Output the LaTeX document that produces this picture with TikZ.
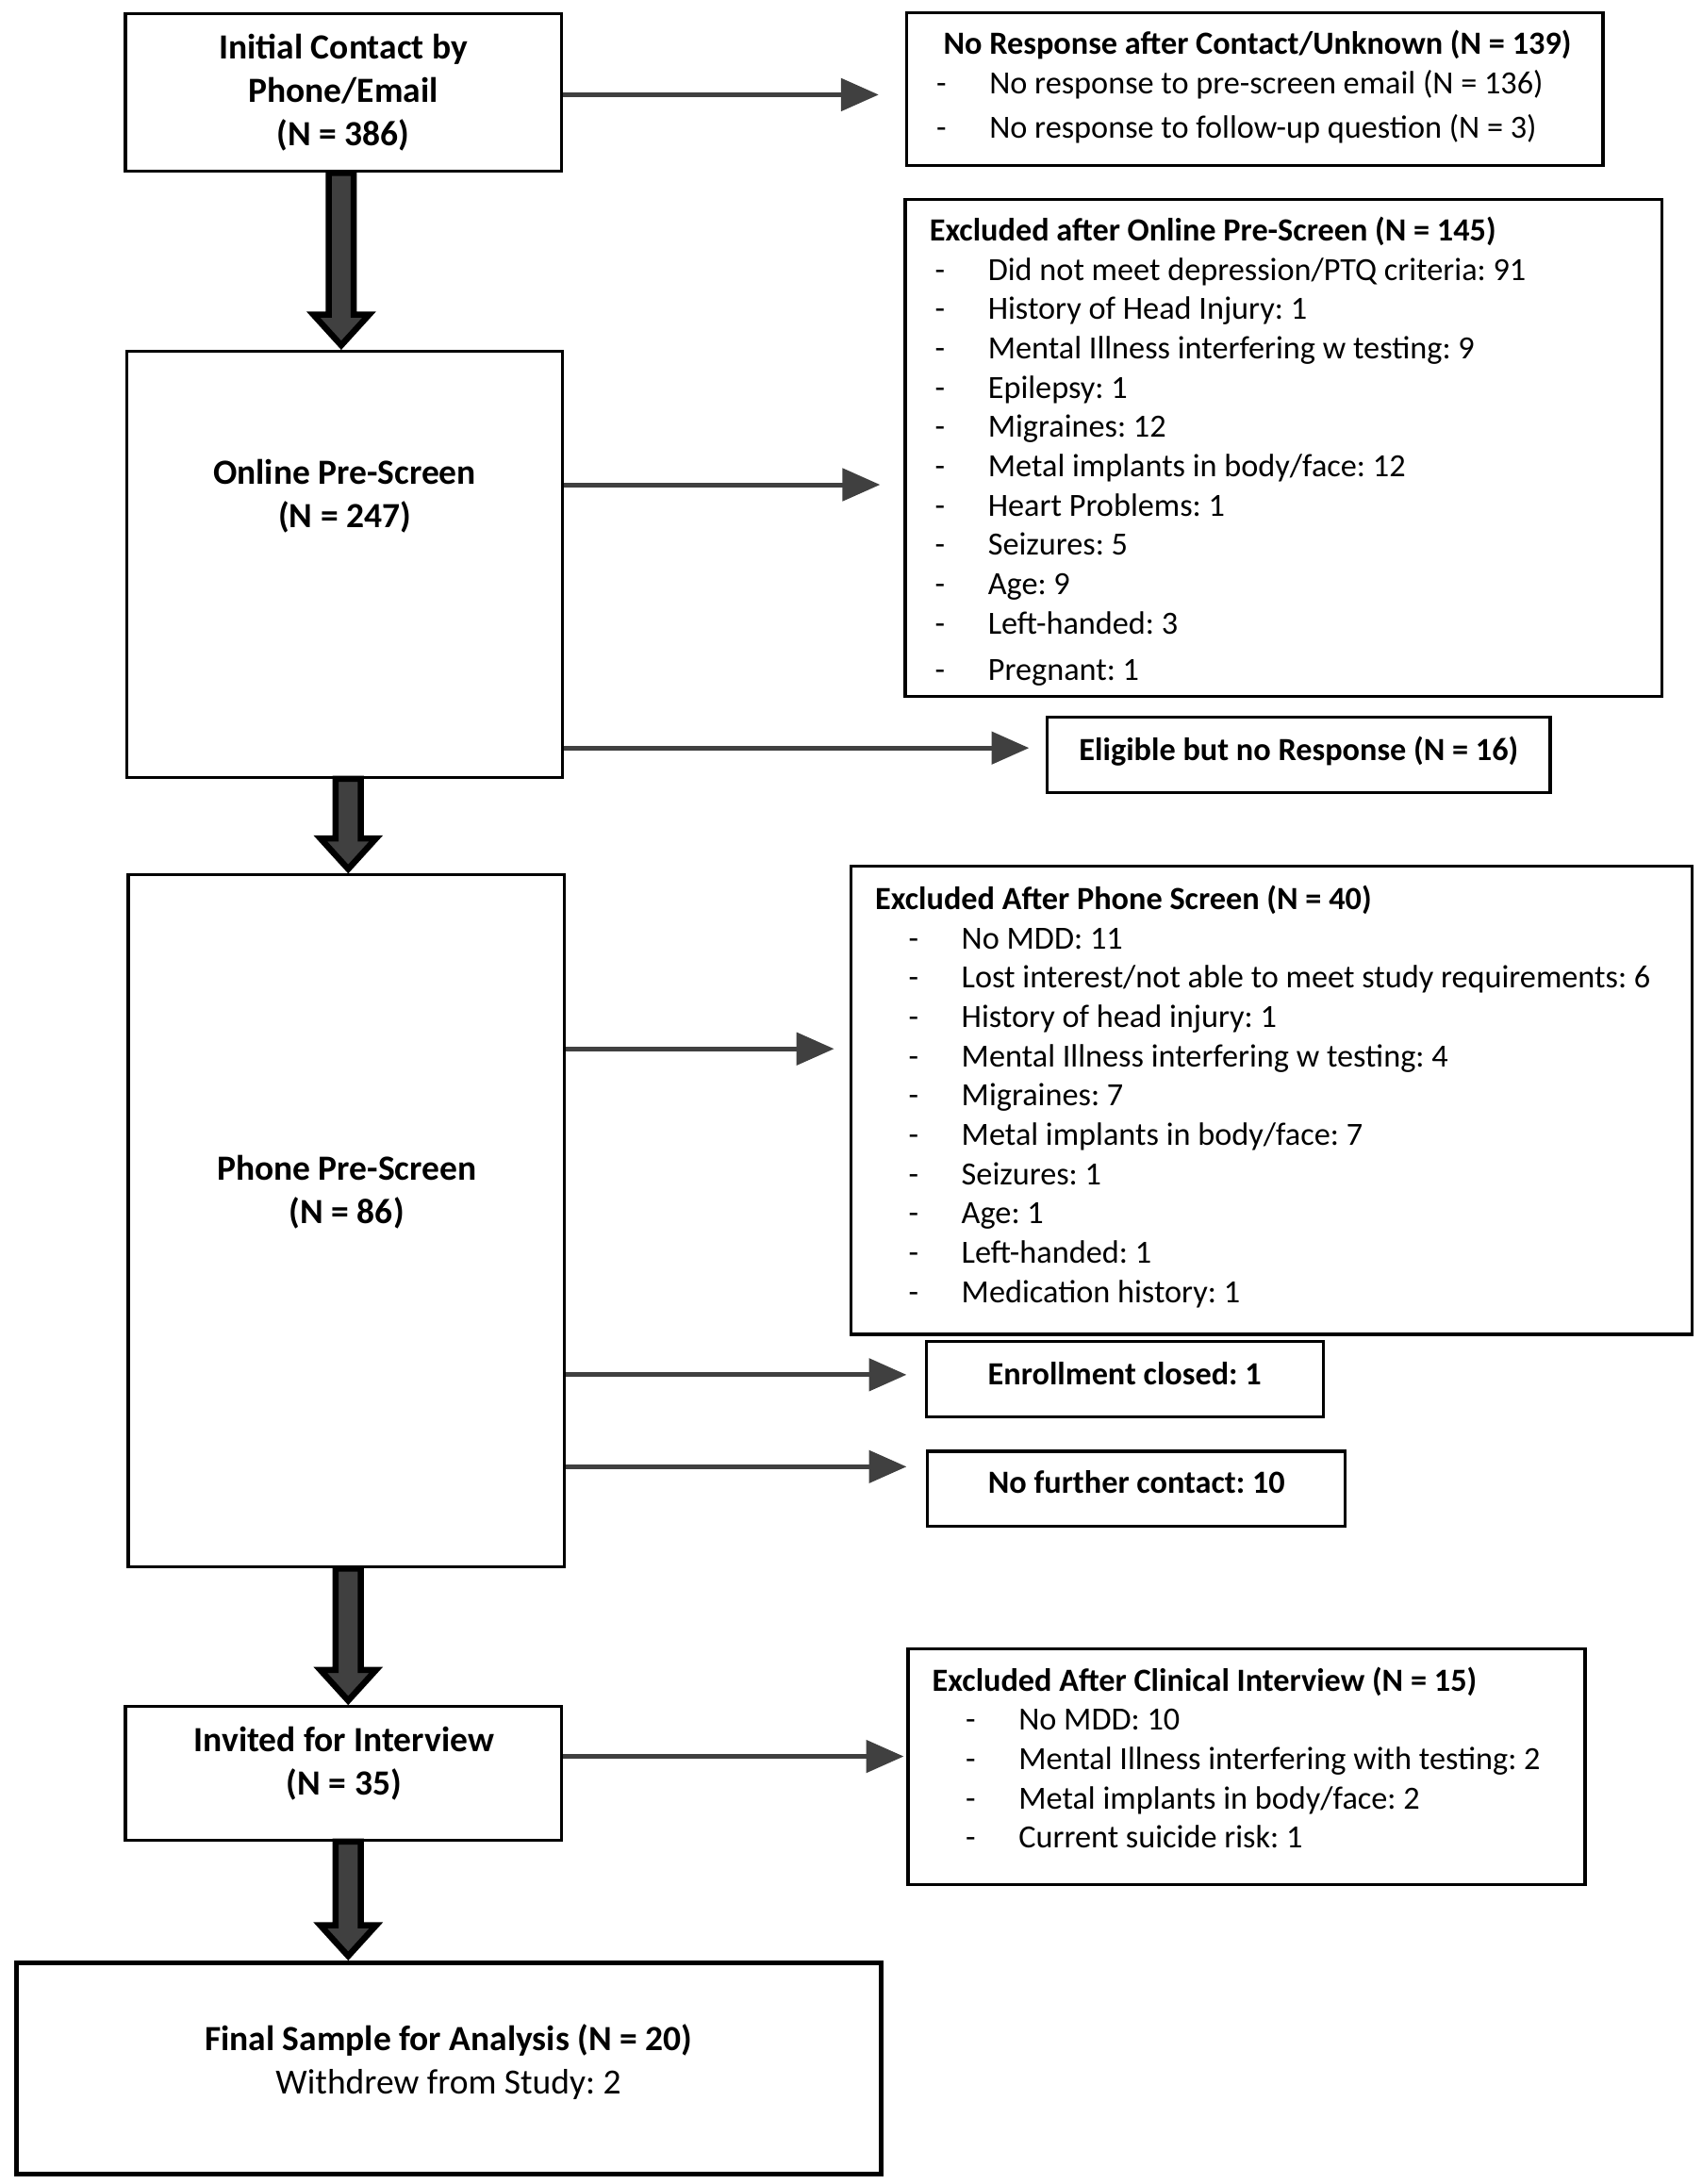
\documentclass[tikz,border=0pt]{standalone}
\usepackage{fontspec}
\setmainfont{Carlito}
\usetikzlibrary{arrows.meta,calc}
\definecolor{ag}{HTML}{404040}
\frenchspacing
\newcommand{\di}{\makebox[19pt][l]{-}}
\newcommand{\ind}{\hspace{12pt}\di}
\begin{document}
\begin{tikzpicture}[x=0.5pt,y=-0.5pt,
 box/.style={draw=black,line width=1.1pt,fill=white,inner sep=0pt},
 ctxt/.style={inner sep=0pt,anchor=base,font=\fontsize{12.7}{15.5}\selectfont\bfseries\frenchspacing},
 stxt/.style={inner sep=0pt,anchor=base,font=\fontsize{11.6}{14}\selectfont\bfseries\frenchspacing},
 lst/.style={inner sep=0pt,anchor=base west,font=\fontsize{11.6}{14.1}\selectfont\frenchspacing},
 harrow/.style={draw=ag,line width=1.7pt,-{Triangle[length=13.5pt,width=11.5pt]}},
 barrow/.style={draw=black,fill=ag,line width=2.2pt,line join=miter}]
\useasboundingbox (0,0) rectangle (1222,1568);

% main column boxes
\node[box,minimum width=156.5pt,minimum height=56.5pt] (b1) at (246.5,66.5) {};
\node[box,minimum width=156.5pt,minimum height=153pt] (b2) at (247.5,405) {};
\node[box,minimum width=156.5pt,minimum height=248.5pt] (b3) at (248.5,876.5) {};
\node[box,minimum width=156.5pt,minimum height=48pt] (b4) at (246.5,1273) {};
\node[box,line width=1.7pt,minimum width=310.5pt,minimum height=76pt] (b5) at (322.5,1485) {};

% side boxes
\node[box,minimum width=250pt,minimum height=55pt] (nr) at (901,64) {};
\node[box,minimum width=271.5pt,minimum height=178.5pt] (ex1) at (921.5,321.5) {};
\node[box,minimum width=180.5pt,minimum height=27pt] (el) at (932.5,542) {};
\node[box,minimum width=302pt,minimum height=168pt] (ex2) at (913,790) {};
\node[box,minimum width=142.5pt,minimum height=27pt] (en) at (807.5,990) {};
\node[box,minimum width=150pt,minimum height=27pt] (nf) at (816,1069) {};
\node[box,minimum width=243pt,minimum height=84.5pt] (ex3) at (895,1268.5) {};

% texts of main column
\node[ctxt] (b1t) at (246.5,42.5) {\begin{tabular}[t]{@{}c@{}}Initial Contact by\\ Phone/Email\\ (N = 386)\end{tabular}};
\node[ctxt] (b2t) at (247.5,347.5) {\begin{tabular}[t]{@{}c@{}}Online Pre-Screen\\ (N = 247)\end{tabular}};
\node[ctxt] (b3t) at (249,847.5) {\begin{tabular}[t]{@{}c@{}}Phone Pre-Screen\\ (N = 86)\end{tabular}};
\node[ctxt] (b4t) at (247,1257.5) {\begin{tabular}[t]{@{}c@{}}Invited for Interview\\ (N = 35)\end{tabular}};
\node[ctxt] (b5t) at (322,1472.5) {\begin{tabular}[t]{@{}c@{}}Final Sample for Analysis (N = 20)\\ \mdseries Withdrew from Study: 2\end{tabular}};

% texts of side boxes
\node[lst] (nrt) at (672,39) {\begin{tabular}[t]{@{}l@{}}\hspace{2.5pt}\textbf{No Response after Contact/Unknown (N = 139)}\\
\di No response to pre-screen email (N = 136)\\[2pt]
\di No response to follow-up question (N = 3)\end{tabular}};

\node[lst] (ex1t) at (671,173) {\begin{tabular}[t]{@{}l@{}}\hspace{-2pt}\textbf{Excluded after Online Pre-Screen (N = 145)}\\
\di Did not meet depression/PTQ criteria: 91\\
\di History of Head Injury: 1\\
\di Mental Illness interfering w testing: 9\\
\di Epilepsy: 1\\
\di Migraines: 12\\
\di Metal implants in body/face: 12\\
\di Heart Problems: 1\\
\di Seizures: 5\\
\di Age: 9\\
\di Left-handed: 3\\[2.5pt]
\di Pregnant: 1\end{tabular}};

\node[stxt] (elt) at (932.5,546) {Eligible but no Response (N = 16)};

\node[lst] (ex2t) at (628,653) {\begin{tabular}[t]{@{}l@{}}\textbf{Excluded After Phone Screen (N = 40)}\\
\ind No MDD: 11\\
\ind Lost interest/not able to meet study requirements: 6\\
\ind History of head injury: 1\\
\ind Mental Illness interfering w testing: 4\\
\ind Migraines: 7\\
\ind Metal implants in body/face: 7\\
\ind Seizures: 1\\
\ind Age: 1\\
\ind Left-handed: 1\\
\ind Medication history: 1\end{tabular}};

\node[stxt] (ent) at (807.5,994) {Enrollment closed: 1};
\node[stxt] (nft) at (816,1072) {No further contact: 10};

\node[lst] (ex3t) at (669,1214) {\begin{tabular}[t]{@{}l@{}}\textbf{Excluded After Clinical Interview (N = 15)}\\
\ind No MDD: 10\\
\ind Mental Illness interfering with testing: 2\\
\ind Metal implants in body/face: 2\\
\ind Current suicide risk: 1\end{tabular}};

% horizontal arrows
\coordinate (y1) at (0,68);
\coordinate (y2) at (0,348);
\coordinate (y3) at (0,537);
\coordinate (y4) at (0,753);
\coordinate (y5) at (0,987);
\coordinate (y6) at (0,1053);
\coordinate (y7) at (0,1261);
\draw[harrow,shorten >=9.5pt] (b1.east |- y1) -- (nr.west |- y1);
\draw[harrow,shorten >=8.5pt] (b2.east |- y2) -- (ex1.west |- y2);
\draw[harrow,shorten >=6pt] (b2.east |- y3) -- (el.west |- y3);
\draw[harrow,shorten >=5.5pt] (b3.east |- y4) -- (ex2.west |- y4);
\draw[harrow,shorten >=6.5pt] (b3.east |- y5) -- (en.west |- y5);
\draw[harrow,shorten >=7pt] (b3.east |- y6) -- (nf.west |- y6);
\draw[harrow,shorten >=1pt] (b4.east |- y7) -- (ex3.west |- y7);

% block arrows down
\foreach \a/\b/\dx in {b1/b2/-1.5,b2/b3/2.5,b3/b4/1.5,b4/b5/3.5}{
  \coordinate (s) at ($(\a.south)+(\dx,0)$);
  \coordinate (t) at ($(\a.south |- \b.north)+(\dx,0)$);
  \draw[barrow] ($(s)+(-9,0)$) -- ($(t)+(-9,-25)$) -- ($(t)+(-20,-25)$)
    -- ($(t)+(0,-3)$) -- ($(t)+(20,-25)$) -- ($(t)+(9,-25)$)
    -- ($(s)+(9,0)$) -- cycle;
}
\end{tikzpicture}
\end{document}
